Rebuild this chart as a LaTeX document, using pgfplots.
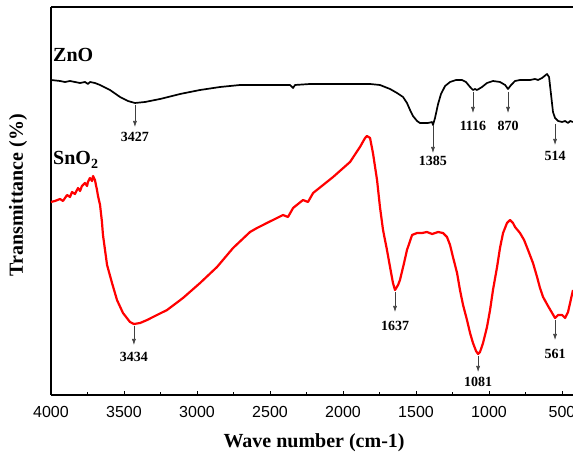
\documentclass[border=0pt]{standalone}
\usepackage{pgfplots}
\pgfplotsset{compat=1.18}
\usepackage{fontspec}
\setmainfont{Liberation Serif}
\newfontfamily\arial{Liberation Sans}
\usetikzlibrary{arrows.meta}
\begin{document}
\begin{tikzpicture}
\begin{axis}[
  name=ax,
  scale only axis,
  width=522pt, height=388pt,
  x dir=reverse,
  xmin=425, xmax=4000,
  ymin=-395, ymax=-7,
  axis x line*=box, axis y line*=left,
  x axis line style={-, line width=1.3pt},
  y axis line style={-, line width=1.3pt},
  ytick=\empty,
  xtick={500,1000,1500,2000,2500,3000,3500,4000},
  minor x tick num=1,
  xtick pos=bottom,
  tick align=inside,
  major tick length=4pt, minor tick length=3pt,
  tick style={line width=1pt, black},
  /pgf/number format/1000 sep={},
  /pgf/number format/assume math mode=true,
  xticklabel style={font=\arial\fontsize{16}{16}\selectfont, yshift=-8pt},
  xlabel={\textbf{Wave number (cm-1)}},
  ylabel={\textbf{Transmittance (\%)}},
  xlabel style={font=\fontsize{20}{20}\selectfont, at={(axis description cs:0.504,-0.124)}, anchor=center},
  ylabel style={font=\fontsize{20}{20}\selectfont, at={(axis description cs:-0.063,0.515)}, anchor=center, rotate=0},
  clip=false,
]
% ZnO
\addplot[black, line width=1.7pt, line join=round] coordinates {
(4000,-80)(3938,-81)(3904,-82)(3870,-81)(3836,-82)(3801,-83)(3767,-82)(3747,-84)(3733,-82)(3699,-83)
(3664,-85)(3596,-90)(3527,-97)(3473,-101)(3425,-103)(3356,-102)(3253,-99)(3116,-94)(2979,-90)(2842,-87)
(2705,-85)(2568,-85)(2432,-85)(2363,-85)(2342,-88)(2329,-85)(2226,-84)(1986,-84)(1815,-84)(1747,-85)
(1678,-89)(1630,-93)(1589,-97)(1562,-103)(1541,-110)(1521,-116)(1493,-121)(1473,-123)(1418,-123)(1390,-122)
(1384,-125)(1370,-118)(1349,-104)(1329,-94)(1301,-86)(1267,-82)(1226,-80)(1185,-80)(1158,-82)(1130,-87)
(1110,-90)(1096,-89)(1082,-90)(1048,-87)(1014,-83)(973,-81)(925,-82)(890,-85)(870,-89)(849,-85)
(822,-81)(788,-80)(719,-80)(685,-79)(664,-80)(637,-78)(603,-74)(589,-77)(575,-95)(562,-112)
(548,-118)(527,-121)(500,-122)(479,-121)(459,-123)(445,-121)(425,-122)
};
% SnO2
\addplot[red, line width=2.2pt, line join=round] coordinates {
(4000,-202)(3973,-201)(3938,-199)(3918,-201)(3890,-195)(3870,-197)(3856,-192)(3836,-194)(3815,-188)(3801,-191)
(3788,-186)(3767,-183)(3753,-186)(3747,-182)(3733,-178)(3719,-181)(3712,-176)(3699,-180)(3685,-190)(3678,-196)
(3664,-205)(3651,-222)(3644,-235)(3630,-250)(3616,-265)(3582,-283)(3548,-300)(3507,-313)(3459,-322)(3432,-324)
(3390,-323)(3342,-320)(3274,-315)(3205,-310)(3096,-298)(2979,-283)(2863,-267)(2753,-248)(2637,-232)(2589,-228)
(2521,-223)(2411,-215)(2377,-217)(2342,-208)(2274,-200)(2240,-202)(2205,-193)(2068,-177)(1952,-162)(1884,-147)
(1849,-138)(1836,-136)(1815,-138)(1795,-153)(1767,-180)(1747,-207)(1726,-230)(1699,-250)(1678,-267)(1658,-283)
(1644,-290)(1623,-285)(1610,-280)(1582,-263)(1562,-250)(1527,-235)(1493,-233)(1459,-233)(1425,-232)(1390,-234)
(1349,-232)(1315,-233)(1288,-237)(1267,-245)(1247,-257)(1219,-273)(1199,-290)(1178,-305)(1151,-320)(1130,-333)
(1110,-343)(1089,-351)(1075,-354)(1062,-352)(1041,-343)(1014,-327)(993,-310)(973,-290)(945,-267)(925,-248)
(904,-233)(877,-223)(856,-220)(836,-223)(822,-227)(788,-233)(760,-240)(733,-250)(699,-263)(671,-277)
(651,-288)(630,-297)(596,-306)(568,-313)(548,-318)(527,-315)(500,-315)(479,-318)(459,-312)(445,-303)(425,-290)
};
% sample labels
\node[anchor=base west, inner sep=0, font=\bfseries\fontsize{20}{20}\selectfont] at (axis cs:3986,-62) {ZnO};
\node[anchor=base west, inner sep=0, font=\bfseries\fontsize{20}{20}\selectfont] at (axis cs:3986,-165) {SnO$_{\mathbf{2}}$};
% annotations
\tikzset{ann/.style={draw=black!75, line width=0.6pt, -{Latex[length=6pt,width=4pt]}},
         annl/.style={anchor=north, inner sep=0, font=\bfseries\fontsize{14}{14}\selectfont}}
\draw[ann] (axis cs:3425,-105) -- (axis cs:3425,-127);
\node[annl] at (axis cs:3425,-132) {3427};
\draw[ann] (axis cs:1384,-125) -- (axis cs:1384,-153);
\node[annl] at (axis cs:1384,-156) {1385};
\draw[ann] (axis cs:1110,-92) -- (axis cs:1110,-113);
\node[annl] at (axis cs:1110,-121) {1116};
\draw[ann] (axis cs:870,-92) -- (axis cs:870,-113);
\node[annl] at (axis cs:870,-121) {870};
\draw[ann] (axis cs:548,-124) -- (axis cs:548,-145);
\node[annl] at (axis cs:548,-151) {514};
\draw[ann] (axis cs:3432,-326) -- (axis cs:3432,-345);
\node[annl] at (axis cs:3432,-352) {3434};
\draw[ann] (axis cs:1644,-292) -- (axis cs:1644,-312);
\node[annl] at (axis cs:1644,-321) {1637};
\draw[ann] (axis cs:1075,-356) -- (axis cs:1075,-372);
\node[annl] at (axis cs:1075,-377) {1081};
\draw[ann] (axis cs:548,-320) -- (axis cs:548,-340);
\node[annl] at (axis cs:548,-349) {561};
\end{axis}
\pgfresetboundingbox
\useasboundingbox ([xshift=-51pt,yshift=-62pt]ax.south west) rectangle ([xshift=522pt,yshift=395pt]ax.south west);
\end{tikzpicture}
\end{document}
